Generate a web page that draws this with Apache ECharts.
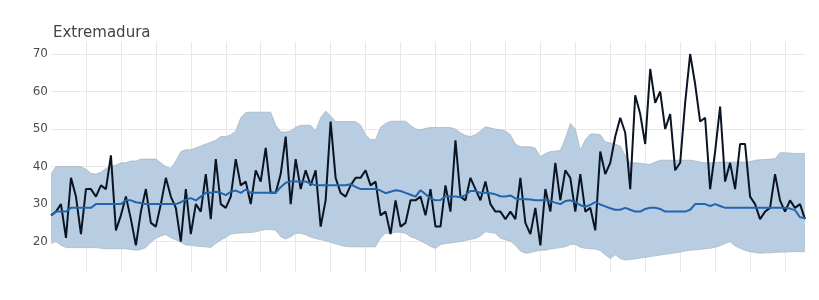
<!DOCTYPE html>
<html>
<head>
<meta charset="utf-8">
<script src="https://cdn.jsdelivr.net/npm/echarts@6/dist/echarts.min.js"></script>
<style>
  html, body { margin: 0; padding: 0; background: #fff; }
  #chart { width: 819px; height: 300px; }
</style>
</head>
<body>
<div id="chart"></div>
<script>
// 观测值（黑线）
const observed = [
  27, 28, 30, 21, 37, 32, 22, 34, 34, 32, 35, 34, 43, 23, 27, 32, 26, 19, 28, 34,
  25, 24, 30, 37, 32, 29, 20, 34, 22, 30, 28, 38, 26, 42, 30, 29, 32, 42, 35, 36,
  30, 39, 36, 45, 33, 33, 38, 48, 30, 42, 34, 39, 35, 39, 24, 31, 52, 37, 33, 32,
  35, 37, 37, 39, 35, 36, 27, 28, 22, 31, 24, 25, 31, 31, 32, 27, 34, 24, 24, 35,
  28, 47, 32, 31, 37, 34, 31, 36, 30, 28, 28, 26, 28, 26, 37, 25, 22, 29, 19, 34,
  28, 41, 31, 39, 37, 28, 38, 28, 29, 23, 44, 38, 41, 48, 53, 49, 34, 59, 54, 46,
  66, 57, 60, 50, 54, 39, 41, 57, 70, 62, 52, 53, 34, 44, 56, 36, 41, 34, 46, 46,
  32, 30, 26, 28, 29, 38, 31, 28, 31, 29, 30, 26
];

// 期望值（蓝线）
const expected = [
  27, 28, 28, 28, 29, 29, 29, 29, 29, 30, 30, 30, 30, 30, 30, 31, 31, 30.5, 30.3, 30,
  30, 30, 30, 30, 30, 30, 30.5, 31.2, 31.6, 31, 32, 33, 33, 33.3, 33, 32.4, 33.3, 33.6, 33, 33.9,
  33, 33, 33, 33, 33, 33, 34.5, 35.7, 36, 36, 36, 36, 35.5, 35, 35, 35, 35, 35, 35, 35,
  35.3, 34.6, 34, 34, 34, 34, 33.6, 32.9, 33.3, 33.7, 33.5, 33, 32.5, 32, 33.7, 32.6, 31.5, 31, 31.1, 32.1,
  32, 32, 31.8, 32.4, 33.5, 33.5, 33, 33, 32.9, 32.6, 32.1, 32, 32.3, 31.5, 31.3, 31.3, 31.2, 31, 31, 31.1,
  30.8, 30.4, 30, 30.8, 31, 30.5, 29.7, 29.3, 29.8, 30.5, 29.9, 29.4, 28.9, 28.5, 28.5, 29, 28.5, 28, 28, 28.7,
  29, 29, 28.7, 28, 28, 28, 28, 28, 28.5, 30, 30, 30, 29.5, 30, 29.5, 29, 29, 29, 29, 29,
  29, 29, 29, 29, 29, 29, 29, 29, 28.8, 28.4, 26.5, 26.3
];

// 置信区间上限
const upper = [
  38, 40, 40, 40, 40, 40, 40, 39.3, 38.2, 38, 38.5, 39.5, 40, 40.4, 41, 41, 41.5, 41.5, 42, 42,
  42, 42, 41, 40, 39.5, 41.5, 44, 44.5, 44.5, 45, 45.5, 46, 46.5, 47, 48, 48, 48.5, 49.5, 53, 54.4,
  54.5, 54.5, 54.5, 54.5, 54.5, 51, 49.3, 49.2, 49.5, 50.5, 51, 51, 51, 49.5, 53, 54.8, 53.5, 52, 52, 52,
  52, 52, 51, 48.5, 47.2, 47.2, 50.5, 51.5, 52.1, 52.1, 52.1, 52.1, 51, 50, 49.8, 50.2, 50.4, 50.4, 50.4, 50.4,
  50.4, 50, 49, 48.3, 48, 48.5, 49.5, 50.6, 50.3, 50, 49.8, 49.5, 48.5, 46, 45.3, 45.3, 45.3, 44.9, 42.6, 43.5,
  44, 44.1, 44.3, 47.5, 51.5, 50, 44.4, 47.1, 48.7, 48.7, 48.5, 46.6, 46.3, 46, 45.5, 43, 41, 41, 40.9, 40.7,
  40.6, 41.2, 41.7, 41.7, 41.7, 41.7, 41.7, 41.7, 41.7, 41.5, 41.2, 41, 41, 41.1, 41.2, 41.2, 41.2, 41.2, 41.2, 41.2,
  41.3, 41.7, 41.8, 41.9, 42, 42.1, 43.7, 43.7, 43.6, 43.5, 43.5, 43.5
];

// 置信区间下限
const lower = [
  19.5, 20, 19, 18.4, 18.4, 18.4, 18.4, 18.4, 18.4, 18.4, 18.2, 18.1, 18.1, 18.1, 18.1, 18.1, 17.9, 17.7, 17.9, 18.4,
  19.8, 20.9, 21.5, 21.9, 21, 20.5, 19.8, 19.1, 19, 18.8, 18.7, 18.6, 18.4, 19.5, 20.4, 21.1, 22, 22.2, 22.3, 22.4,
  22.4, 22.6, 23, 23.2, 23.2, 23, 21.3, 20.7, 21.3, 22.2, 22.2, 21.8, 21.2, 20.8, 20.5, 20.2, 19.8, 19.4, 19, 18.7,
  18.6, 18.6, 18.6, 18.6, 18.6, 18.6, 21, 22.2, 22.2, 22.5, 22.5, 22.2, 21.3, 20.8, 20.2, 19.5, 18.7, 18.2, 19.2, 19.5,
  19.6, 19.8, 20, 20.3, 20.6, 20.8, 21.5, 22.6, 22.4, 22.2, 20.9, 20.5, 20.1, 19, 17.5, 16.9, 17.1, 17.4, 17.7, 17.7,
  18, 18.2, 18.4, 18.6, 19.2, 19.3, 18.5, 18.2, 18.1, 18, 17.6, 16.5, 15.5, 16.5, 15.5, 15.1, 15.2, 15.4, 15.6, 15.8,
  16, 16.2, 16.4, 16.6, 16.8, 17, 17.2, 17.5, 17.7, 17.8, 17.9, 18.1, 18.2, 18.5, 18.9, 19.5, 20, 18.8, 18.2, 17.6,
  17.3, 17.1, 16.9, 17, 17, 17.1, 17.2, 17.2, 17.3, 17.3, 17.3, 17.3
];

// 周序号（图中没有横轴标签）
const weeks = observed.map((_, i) => "S" + (i + 1));

// 区间宽度，用于堆叠面积
const bandWidth = upper.map((u, i) => +(u - lower[i]).toFixed(2));

// 横向网格线颜色：首尾（坐标轴边界）透明
const gridColor = "#e8e8e8";
const hLineColors = ["rgba(0,0,0,0)", gridColor, gridColor, gridColor, gridColor, gridColor, gridColor, "rgba(0,0,0,0)"];

const chart = echarts.init(document.getElementById("chart"));

const option = {
  animation: false,
  title: {
    text: "Extremadura",
    left: 53,
    top: 26,
    padding: 0,
    textStyle: {
      fontFamily: "DejaVu Sans",
      fontSize: 15,
      fontWeight: "normal",
      color: "#444",
    },
  },
  grid: { left: 51, right: 14, top: 42, bottom: 28 },
  xAxis: {
    type: "category",
    data: weeks,
    boundaryGap: false,
    axisLine: { show: false },
    axisTick: { show: false },
    axisLabel: { show: false },
    splitLine: {
      show: true,
      interval: (index) => index > 0 && index % 7 === 0,
      lineStyle: { color: gridColor, width: 1 },
    },
  },
  yAxis: {
    type: "value",
    min: 11.9,
    max: 73.2,
    splitNumber: 5,
    axisLine: { show: false },
    axisTick: { show: false },
    axisLabel: {
      showMinLabel: false,
      showMaxLabel: false,
      margin: 3,
      color: "#4d4d4d",
      fontFamily: "DejaVu Sans",
      fontSize: 12,
    },
    splitLine: { lineStyle: { color: hLineColors, width: 1 } },
  },
  series: [
    {
      name: "lower",
      type: "line",
      data: lower,
      stack: "band",
      symbol: "none",
      lineStyle: { color: "#9ea9b5", width: 0.6 },
      z: 1,
    },
    {
      name: "band",
      type: "line",
      data: bandWidth,
      stack: "band",
      symbol: "none",
      lineStyle: { color: "#9ea9b5", width: 0.6 },
      areaStyle: { color: "#b8cde2", opacity: 1 },
      z: 1,
    },
    {
      name: "observed",
      type: "line",
      data: observed,
      symbol: "none",
      lineStyle: { color: "#0b1422", width: 2 },
      z: 3,
    },
    {
      name: "expected",
      type: "line",
      data: expected,
      symbol: "none",
      lineStyle: { color: "#2166ac", width: 2 },
      z: 4,
    },
  ],
};

chart.setOption(option);
</script>
</body>
</html>
